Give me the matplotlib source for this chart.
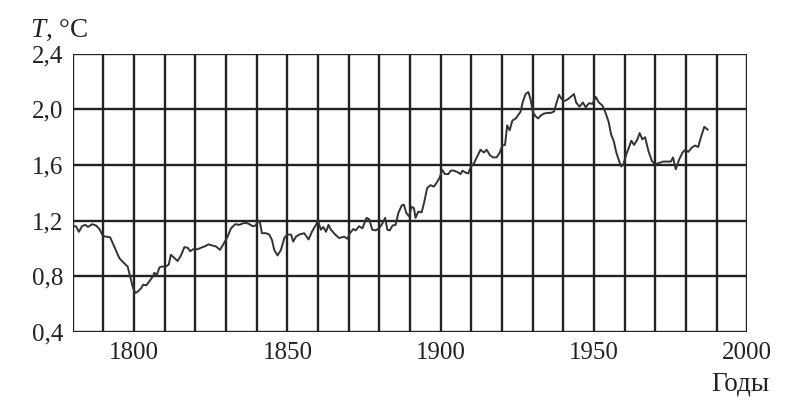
import matplotlib
matplotlib.use("Agg")
import matplotlib.pyplot as plt
import numpy as np

plt.rcParams['font.family'] = ['Liberation Serif', 'DejaVu Serif']
plt.rcParams['mathtext.fontset'] = 'custom'
plt.rcParams['mathtext.rm'] = 'Liberation Serif'
plt.rcParams['mathtext.it'] = 'Liberation Serif:italic'

# values (year, temperature)
years = [1780.0, 1781.0, 1782.0, 1783.0, 1784.0, 1785.0, 1786.3, 1787.6, 1788.7, 1789.8,
         1790.9, 1792.2, 1793.0, 1794.0, 1795.2, 1796.5, 1797.9, 1798.7, 1799.6, 1800.4,
         1801.2, 1802.3, 1803.0, 1804.0, 1805.0, 1806.0, 1806.6, 1807.4, 1808.3, 1809.1,
         1810.4, 1811.3, 1812.0, 1813.2, 1814.2, 1815.4, 1816.4, 1817.5, 1818.3, 1819.3,
         1820.8, 1821.8, 1823.0, 1824.3, 1825.7, 1826.7, 1828.0, 1829.1, 1830.5, 1831.6,
         1833.0, 1834.3, 1835.4, 1836.5, 1837.6, 1838.7, 1839.6, 1840.3, 1841.0, 1841.7,
         1843.0, 1844.1, 1845.0, 1845.7, 1846.8, 1847.9, 1849.0, 1850.0, 1851.2, 1851.9,
         1852.8, 1853.9, 1855.5, 1856.9, 1858.0, 1859.3, 1860.0, 1860.9, 1861.7, 1862.6,
         1863.4, 1864.2, 1865.6, 1866.9, 1868.5, 1869.6, 1870.4, 1871.5, 1872.3, 1873.4,
         1874.5, 1875.8, 1876.7, 1877.7, 1878.8, 1879.9, 1881.0, 1881.9, 1882.6, 1883.4,
         1884.3, 1885.3, 1886.2, 1887.3, 1888.0, 1888.8, 1889.7, 1890.5, 1891.3, 1891.8,
         1892.7, 1893.8, 1894.6, 1895.6, 1896.7, 1897.8, 1898.9, 1899.7, 1900.5, 1901.4,
         1902.5, 1903.3, 1904.3, 1905.4, 1906.5, 1907.1, 1908.2, 1909.0, 1909.8, 1910.9,
         1912.0, 1913.0, 1914.1, 1915.0, 1916.1, 1917.1, 1918.2, 1919.2, 1920.1, 1921.0,
         1921.7, 1922.5, 1923.4, 1924.5, 1925.3, 1926.1, 1926.8, 1927.7, 1928.6, 1929.3,
         1930.1, 1931.0, 1931.8, 1932.6, 1933.7, 1934.8, 1935.9, 1937.0, 1937.7, 1938.6,
         1939.5, 1940.2, 1941.3, 1942.4, 1943.5, 1944.2, 1945.3, 1946.4, 1947.3, 1948.4,
         1949.5, 1950.6, 1951.6, 1952.7, 1953.8, 1954.8, 1955.6, 1956.5, 1957.3, 1958.2,
         1958.9, 1959.6, 1960.6, 1961.4, 1962.2, 1963.1, 1964.2, 1964.9, 1965.8, 1966.7,
         1967.8, 1968.9, 1969.9, 1971.3, 1972.6, 1974.0, 1975.1, 1975.8, 1976.7, 1977.8,
         1978.9, 1979.8, 1980.8, 1981.9, 1983.0, 1984.0, 1984.9, 1986.0, 1987.1]
temps = [1.16, 1.16, 1.12, 1.16, 1.17, 1.155, 1.175, 1.165, 1.14, 1.09,
         1.085, 1.08, 1.04, 0.99, 0.93, 0.90, 0.87, 0.80, 0.72, 0.68,
         0.69, 0.715, 0.74, 0.735, 0.765, 0.795, 0.825, 0.81, 0.865, 0.87,
         0.87, 0.885, 0.955, 0.93, 0.91, 0.955, 1.01, 1.005, 0.98, 0.995,
         0.995, 1.005, 1.015, 1.03, 1.02, 1.015, 0.99, 1.03, 1.085, 1.145,
         1.175, 1.17, 1.18, 1.185, 1.175, 1.16, 1.165, 1.19, 1.195, 1.11,
         1.11, 1.10, 1.06, 0.99, 0.95, 0.99, 1.075, 1.10, 1.10, 1.05,
         1.085, 1.10, 1.11, 1.065, 1.12, 1.17, 1.20, 1.135, 1.155, 1.12,
         1.17, 1.135, 1.10, 1.075, 1.085, 1.07, 1.11, 1.14, 1.13, 1.16,
         1.145, 1.22, 1.21, 1.135, 1.13, 1.145, 1.18, 1.22, 1.135, 1.13,
         1.165, 1.17, 1.255, 1.31, 1.315, 1.255, 1.23, 1.30, 1.29, 1.22,
         1.265, 1.26, 1.33, 1.435, 1.455, 1.445, 1.48, 1.51, 1.565, 1.535,
         1.535, 1.56, 1.56, 1.55, 1.535, 1.56, 1.545, 1.54, 1.585, 1.615,
         1.665, 1.71, 1.69, 1.71, 1.67, 1.655, 1.655, 1.685, 1.74, 1.745,
         1.885, 1.85, 1.92, 1.935, 1.96, 1.985, 2.055, 2.11, 2.125, 2.075,
         1.98, 1.95, 1.935, 1.955, 1.97, 1.975, 1.975, 1.985, 2.04, 2.105,
         2.075, 2.06, 2.07, 2.09, 2.11, 2.05, 2.02, 2.05, 2.015, 2.045,
         2.04, 2.09, 2.05, 2.03, 1.975, 1.91, 1.82, 1.77, 1.69, 1.63,
         1.59, 1.605, 1.68, 1.725, 1.775, 1.745, 1.785, 1.83, 1.785, 1.80,
         1.70, 1.63, 1.605, 1.615, 1.625, 1.625, 1.625, 1.655, 1.57, 1.64,
         1.69, 1.71, 1.695, 1.725, 1.74, 1.73, 1.80, 1.875, 1.855]

xticks = [1800, 1850, 1900, 1950, 2000]
yticks = [0.4, 0.8, 1.2, 1.6, 2.0, 2.4]
ytick_labels = ['0,4', '0,8', '1,2', '1,6', '2,0', '2,4']

fig = plt.figure(figsize=(8, 4.17), dpi=100)
ax = fig.add_axes([0.091, 0.204, 0.843, 0.667])

# grid: every 10 years, every 0.4 degrees
for yr in np.arange(1780, 2001, 10):
    ax.axvline(yr, color='#222222', lw=1.7, zorder=1)
for t in yticks:
    ax.axhline(t, color='#222222', lw=1.7, zorder=1)

ax.plot(years, temps, color='#333333', lw=1.4, zorder=3)

ax.set_xlim(1780, 2000)
ax.set_ylim(0.4, 2.4)
ax.set_xticks(xticks)
ax.set_yticks(yticks)
ax.set_yticklabels(ytick_labels)
ax.tick_params(length=0, labelsize=18, colors='#222222')
ax.tick_params(axis='x', pad=7)
ax.tick_params(axis='y', pad=7)
for s in ax.spines.values():
    s.set_visible(False)

fig.text(0.037, 1 - 37 / 417, '$T$, °C', fontsize=19.5, color='#222222', va='baseline')
fig.text(0.962, 1 - 390 / 417, 'Годы', fontsize=19.5, color='#222222', va='baseline', ha='right')

fig.savefig('out.png', dpi=100)
